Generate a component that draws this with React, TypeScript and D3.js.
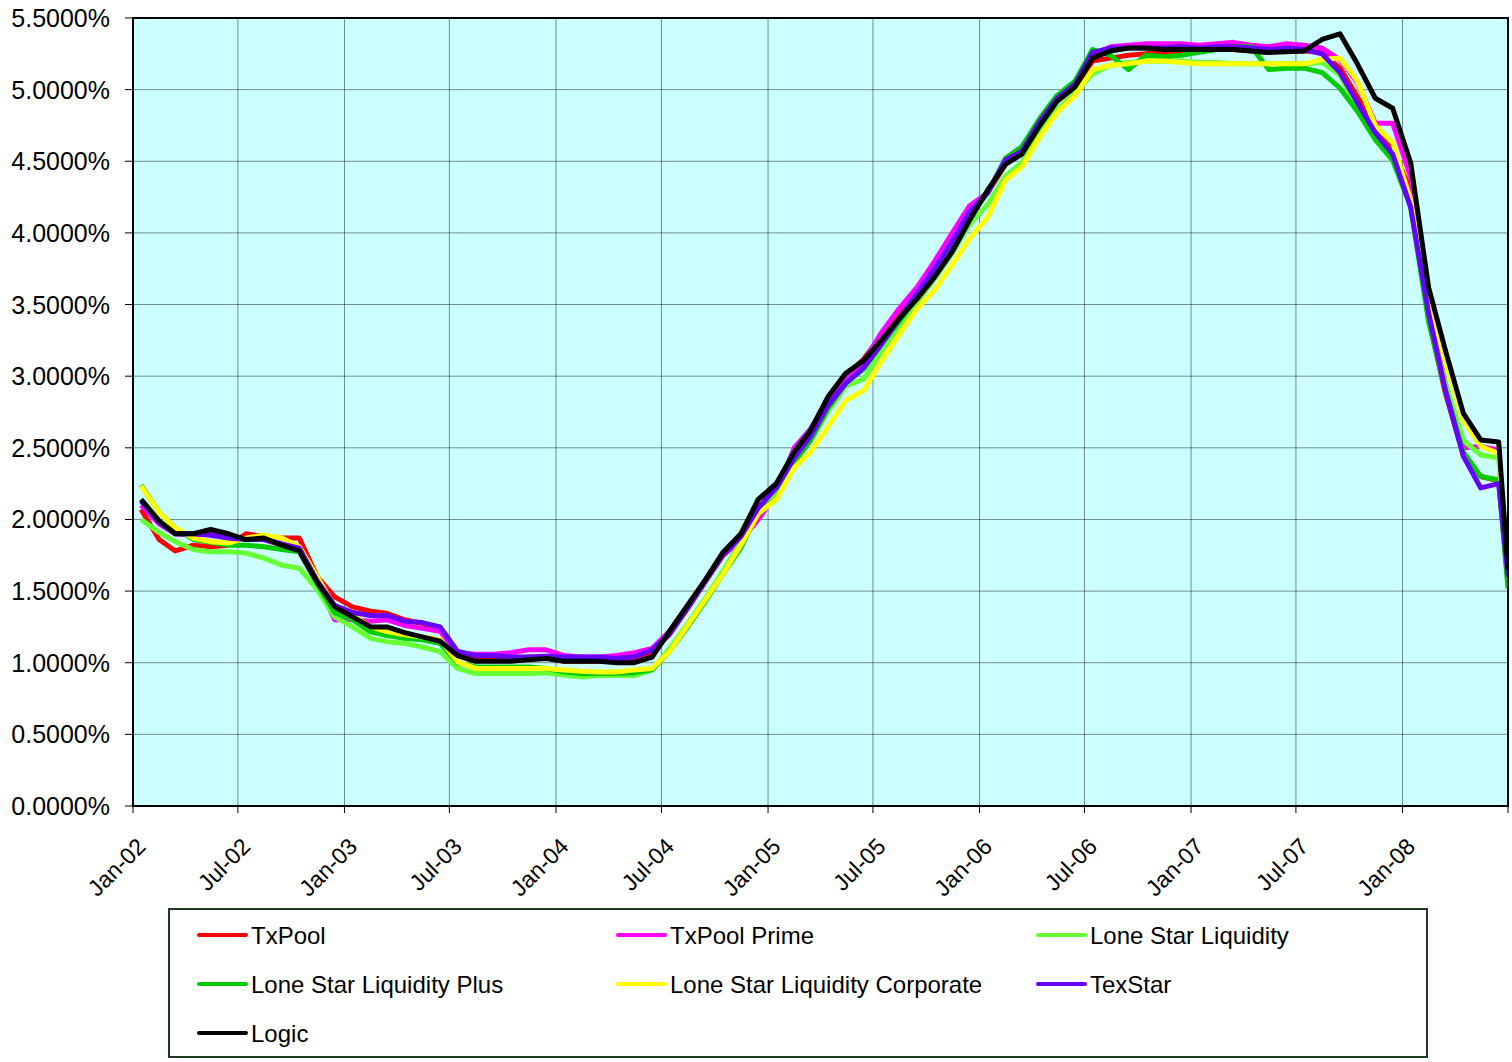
import React from "react";
import * as d3 from "d3";

const W = 1512;
const H = 1062;
const PLOT = { left: 133, right: 1508, top: 18, bottom: 806 };

const seriesNames = [
  "TxPool",
  "TxPool Prime",
  "Lone Star Liquidity",
  "Lone Star Liquidity Plus",
  "Lone Star Liquidity Corporate",
  "TexStar",
  "Logic",
];
const seriesColors = ["#FF0000", "#FF00FF", "#66FF33", "#00CC00", "#FFFF00", "#6600FF", "#000000"];

// monthly yields in percent, Jan-02 .. Jun-08, plus the partial Jul-08 reading
const txPool = [
  2.07, 1.86, 1.78, 1.82, 1.81, 1.82, 1.9, 1.88, 1.87, 1.87,
  1.6, 1.46, 1.39, 1.36, 1.345, 1.3, 1.275, 1.23, 1.07, 1.02,
  1.02, 1.02, 1.04, 1.04, 1.01, 1.01, 1.01, 1.01, 1.02, 1.07,
  1.2, 1.38, 1.57, 1.75, 1.87, 2.08, 2.22, 2.47, 2.62, 2.84,
  3.0, 3.12, 3.28, 3.43, 3.58, 3.74, 3.92, 4.12, 4.28, 4.48,
  4.56, 4.76, 4.92, 5.02, 5.2, 5.22, 5.24, 5.25, 5.26, 5.27,
  5.28, 5.28, 5.28, 5.27, 5.26, 5.27, 5.27, 5.26, 5.15, 4.95,
  4.72, 4.58, 4.3, 3.4, 2.88, 2.45, 2.3, 2.27,
  1.55,
];
const txPoolPrime = [
  2.1, 1.97, 1.9, 1.89, 1.9, 1.87, 1.86, 1.86, 1.82, 1.79,
  1.56, 1.3, 1.3, 1.29, 1.3, 1.26, 1.24, 1.22, 1.07, 1.06,
  1.06, 1.07, 1.09, 1.09, 1.05, 1.04, 1.04, 1.05, 1.07, 1.1,
  1.22, 1.4, 1.58, 1.75, 1.85, 2.0, 2.18, 2.5, 2.63, 2.84,
  3.0, 3.1, 3.3, 3.47, 3.62, 3.8, 4.0, 4.19, 4.28, 4.52,
  4.6, 4.78, 4.94, 5.04, 5.24, 5.3, 5.31, 5.32, 5.32, 5.32,
  5.31, 5.32, 5.33, 5.31, 5.3, 5.32, 5.31, 5.29, 5.21, 5.05,
  4.765, 4.765, 4.39, 3.45, 2.95, 2.5, 2.51, 2.485,
  1.6,
];
const loneStarLiquidity = [
  2.0, 1.91, 1.845, 1.79, 1.775, 1.775, 1.765, 1.73, 1.68, 1.66,
  1.51, 1.32, 1.25, 1.17, 1.147, 1.136, 1.11, 1.077, 0.96, 0.925,
  0.925, 0.925, 0.925, 0.93, 0.914, 0.9, 0.91, 0.91, 0.91, 0.95,
  1.1, 1.27, 1.45, 1.64, 1.84, 2.06, 2.17, 2.41, 2.55, 2.76,
  2.93, 2.98, 3.17, 3.35, 3.52, 3.68, 3.86, 4.06, 4.2, 4.4,
  4.49, 4.7, 4.86, 4.98, 5.11, 5.17, 5.19, 5.2, 5.2, 5.2,
  5.19, 5.19, 5.18, 5.18, 5.18, 5.18, 5.18, 5.19, 5.1, 4.88,
  4.66, 4.5, 4.2, 3.4, 2.95, 2.55, 2.45, 2.43,
  1.52,
];
const loneStarLiquidityPlus = [
  2.24, 2.05, 1.94, 1.86, 1.84, 1.82, 1.82, 1.81, 1.79, 1.775,
  1.55, 1.35, 1.3, 1.215, 1.19, 1.17, 1.16, 1.135, 1.0, 0.97,
  0.97, 0.97, 0.97, 0.96, 0.936, 0.925, 0.925, 0.925, 0.93, 0.95,
  1.08, 1.25, 1.43, 1.62, 1.8, 2.06, 2.14, 2.4, 2.55, 2.78,
  2.95, 3.05, 3.22, 3.38, 3.55, 3.72, 3.9, 4.12, 4.28, 4.52,
  4.6, 4.8, 4.96, 5.06, 5.28, 5.24, 5.14, 5.24, 5.23, 5.24,
  5.26, 5.28, 5.3, 5.3, 5.14, 5.15, 5.15, 5.12, 5.01, 4.85,
  4.65, 4.51, 4.18, 3.38, 2.9, 2.47, 2.3, 2.275,
  1.52,
];
const loneStarLiquidityCorporate = [
  2.235, 2.05, 1.94, 1.87, 1.845, 1.835, 1.87, 1.89, 1.87, 1.81,
  1.6, 1.39, 1.33, 1.25, 1.217, 1.195, 1.18, 1.16, 1.006, 0.96,
  0.96, 0.96, 0.96, 0.96, 0.95, 0.94, 0.936, 0.936, 0.95, 0.96,
  1.08, 1.26, 1.44, 1.62, 1.82, 2.04, 2.14, 2.36, 2.47, 2.65,
  2.83, 2.9, 3.1, 3.29, 3.47, 3.6, 3.78, 3.96, 4.11, 4.37,
  4.46, 4.67, 4.84, 4.96, 5.14, 5.17, 5.18, 5.2, 5.2, 5.19,
  5.18, 5.18, 5.18, 5.18, 5.18, 5.18, 5.18, 5.21, 5.22, 5.06,
  4.75, 4.63, 4.23, 3.55, 3.1, 2.69, 2.51, 2.46,
  1.6,
];
const texStar = [
  2.13, 1.98, 1.9, 1.9, 1.89, 1.87, 1.86, 1.86, 1.83, 1.8,
  1.57, 1.4, 1.35, 1.33, 1.33, 1.29, 1.28, 1.25, 1.08, 1.05,
  1.05, 1.04, 1.04, 1.045, 1.04, 1.04, 1.04, 1.03, 1.04, 1.09,
  1.2, 1.38, 1.57, 1.75, 1.88, 2.08, 2.22, 2.43, 2.58, 2.8,
  2.95, 3.06, 3.22, 3.4, 3.58, 3.75, 3.94, 4.15, 4.28, 4.51,
  4.57, 4.78, 4.94, 5.04, 5.26, 5.29, 5.29, 5.29, 5.29, 5.3,
  5.29, 5.3, 5.3, 5.29, 5.28, 5.29, 5.28, 5.25, 5.12, 4.91,
  4.7, 4.55, 4.18, 3.44, 2.9, 2.44, 2.22, 2.25,
  1.6,
];
const logic = [
  2.14, 1.99, 1.9, 1.9, 1.93, 1.9, 1.86, 1.87, 1.82, 1.78,
  1.56, 1.39, 1.32, 1.25, 1.25, 1.21, 1.18, 1.15, 1.05, 1.01,
  1.01, 1.01, 1.02, 1.03, 1.01, 1.01, 1.01, 1.0, 1.0, 1.04,
  1.22, 1.4, 1.58, 1.77, 1.9, 2.14, 2.25, 2.47, 2.62, 2.86,
  3.02, 3.11, 3.25, 3.4, 3.54, 3.69, 3.87, 4.09, 4.3, 4.48,
  4.55, 4.75, 4.92, 5.02, 5.22, 5.27, 5.29, 5.29, 5.28, 5.28,
  5.28, 5.28, 5.28, 5.27, 5.26, 5.265, 5.27, 5.35, 5.39, 5.18,
  4.94, 4.87, 4.49, 3.62, 3.18, 2.74, 2.555, 2.54,
  1.65,
];
const seriesValues = [
  txPool,
  txPoolPrime,
  loneStarLiquidity,
  loneStarLiquidityPlus,
  loneStarLiquidityCorporate,
  texStar,
  logic,
];

const axisStart = new Date(2002, 0, 1);
const axisEnd = new Date(2008, 6, 1);
// observation dates: mid-month readings, last one at the start of Jul-08
const monthStarts = d3.timeMonth.range(axisStart, axisEnd);
const pointDates = [...monthStarts.map((m) => d3.timeDay.offset(m, 14)), axisEnd];
const tickDates = d3.timeMonth.every(6)!.range(axisStart, d3.timeDay.offset(axisEnd, 1));
const yTicks = d3.range(0, 12).map((i) => i * 0.5);

const FONT = "'Liberation Sans', Arial, Helvetica, sans-serif";

export default function App() {
  const x = d3.scaleTime().domain([axisStart, axisEnd]).range([PLOT.left, PLOT.right]);
  const y = d3.scaleLinear().domain([0, 5.5]).range([PLOT.bottom, PLOT.top]);
  const fmtY = (v: number) => d3.format(".4f")(v) + "%";
  const fmtX = d3.timeFormat("%b-%y");
  const line = d3
    .line<number>()
    .x((_, i) => x(pointDates[i]))
    .y((v) => y(v));

  const legendCols = [199, 618, 1038];
  const legendRows = [935, 984, 1033];

  return (
    <svg
      width={W}
      height={H}
      style={{ position: "absolute", left: 0, top: 0, background: "#fff" }}
      fontFamily={FONT}
    >
      <defs>
        <clipPath id="plotClip">
          <rect x={PLOT.left} y={PLOT.top} width={PLOT.right - PLOT.left} height={PLOT.bottom - PLOT.top} />
        </clipPath>
      </defs>
      <rect
        x={PLOT.left}
        y={PLOT.top}
        width={PLOT.right - PLOT.left}
        height={PLOT.bottom - PLOT.top}
        fill="#CCFFFF"
      />
      {/* gridlines */}
      {yTicks.map((t) => (
        <line
          key={"gy" + t}
          x1={PLOT.left}
          x2={PLOT.right}
          y1={y(t)}
          y2={y(t)}
          stroke="#000"
          strokeOpacity={0.45}
          strokeWidth={1}
        />
      ))}
      {tickDates.map((d) => (
        <line
          key={"gx" + d.getTime()}
          x1={x(d)}
          x2={x(d)}
          y1={PLOT.top}
          y2={PLOT.bottom}
          stroke="#000"
          strokeOpacity={0.45}
          strokeWidth={1}
        />
      ))}
      {/* series */}
      <g clipPath="url(#plotClip)">
        {seriesValues.map((vals, si) => (
          <path
            key={seriesNames[si]}
            d={line(vals) || ""}
            fill="none"
            stroke={seriesColors[si]}
            strokeWidth={5}
            strokeLinejoin="round"
          />
        ))}
      </g>
      {/* border */}
      <rect
        x={PLOT.left}
        y={PLOT.top}
        width={PLOT.right - PLOT.left}
        height={PLOT.bottom - PLOT.top}
        fill="none"
        stroke="#000"
        strokeWidth={2}
      />
      {/* y axis */}
      {yTicks.map((t) => (
        <g key={"yt" + t}>
          <line x1={PLOT.left - 8} x2={PLOT.left} y1={y(t)} y2={y(t)} stroke="#000" strokeWidth={1} />
          <text x={110} y={y(t)} dy="0.36em" textAnchor="end" fontSize={25} fill="#000">
            {fmtY(t)}
          </text>
        </g>
      ))}
      {/* x axis */}
      {tickDates.map((d, i) => (
        <g key={"xt" + d.getTime()}>
          <line x1={x(d)} x2={x(d)} y1={PLOT.bottom} y2={PLOT.bottom + 7} stroke="#000" strokeWidth={1} />
          {i < tickDates.length - 1 && (
            <text
              transform={`translate(${x(d) + 14},${PLOT.bottom + 42}) rotate(-45)`}
              textAnchor="end"
              fontSize={23}
              fill="#000"
            >
              {fmtX(d)}
            </text>
          )}
        </g>
      ))}
      {/* legend */}
      <rect x={169} y={909} width={1258} height={148} fill="#fff" stroke="#1E3A1E" strokeWidth={2} />
      {seriesNames.map((name, i) => {
        const cx = legendCols[i % 3];
        const cy = legendRows[Math.floor(i / 3)];
        return (
          <g key={"lg" + name}>
            <line x1={cx} x2={cx + 47} y1={cy} y2={cy} stroke={seriesColors[i]} strokeWidth={4} strokeLinecap="round" />
            <text x={cx + 52} y={cy} dy="0.36em" fontSize={24} fill="#000">
              {name}
            </text>
          </g>
        );
      })}
    </svg>
  );
}
